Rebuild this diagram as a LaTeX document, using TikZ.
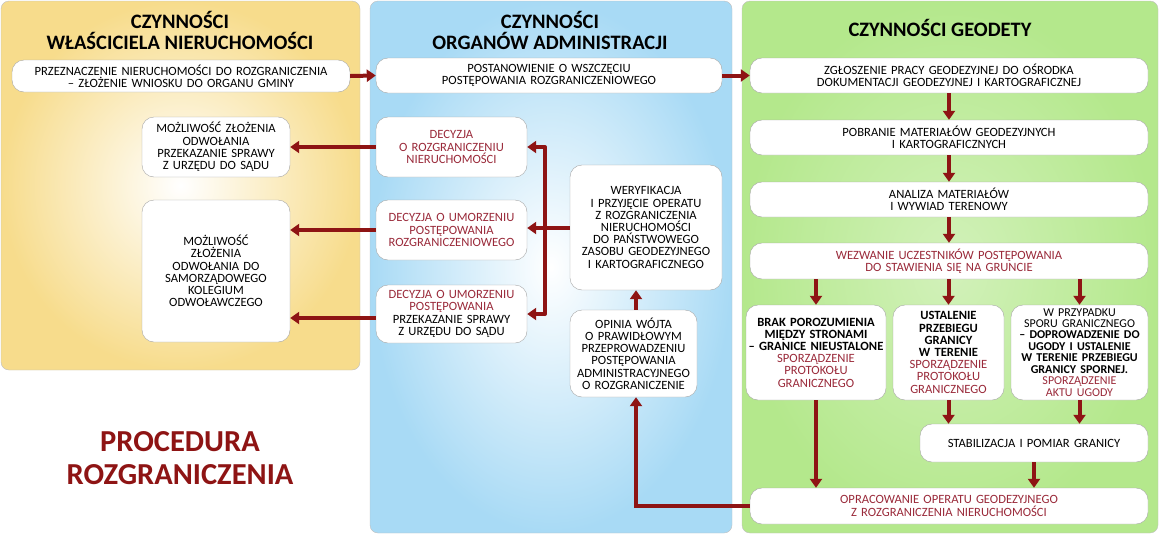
\documentclass[tikz,border=0pt]{standalone}
\usepackage{fontspec}
\setmainfont{Carlito}
\usetikzlibrary{arrows.meta}
\definecolor{dred}{HTML}{8E1414}
\definecolor{tred}{HTML}{9A2A3A}
\definecolor{py}{HTML}{F7DC8C}
\definecolor{pb}{HTML}{A8DAF5}
\definecolor{pg}{HTML}{B4E88C}
\begin{document}
\begin{tikzpicture}[x=1pt,y=-1pt,
 box/.style={draw=gray!70,fill=white,rounded corners=12pt,align=center,font=\fontsize{12.6}{12.2}\selectfont,inner sep=0pt},
 arr/.style={draw=dred,line width=4pt,-{Triangle[length=9pt,width=12pt]}},
 ln/.style={draw=dred,line width=4pt},
 ttl/.style={font=\bfseries\fontsize{20.5}{21}\selectfont,align=center}]
\useasboundingbox (0,0) rectangle (1160,536);
\shade[inner color=white,outer color=py,rounded corners=8pt,draw=gray!50] (1,1) rectangle (360,370);
\shade[inner color=white,outer color=pb,rounded corners=8pt,draw=gray!50] (370,1) rectangle (732,533);
\shade[inner color=white!40!pg,outer color=pg,rounded corners=8pt,draw=gray!50] (742,1) rectangle (1158,533);
\node[ttl] (t1) at (180,30) {CZYNNOŚCI\\WŁAŚCICIELA NIERUCHOMOŚCI};
\node[ttl] (t2) at (550,30) {CZYNNOŚCI\\ORGANÓW ADMINISTRACJI};
\node[ttl] (t3) at (940,28) {CZYNNOŚCI GEODETY};
\node[font=\bfseries\fontsize{30.5}{33}\selectfont,text=dred,align=center] (proc) at (180,458) {PROCEDURA\\ROZGRANICZENIA};
\newcommand{\bx}[6]{\node[box,minimum width=#4-#3,minimum height=#6-#5,text width=#4-#3-4pt] (#1) at ({(#3+#4)/2},{(#5+#6)/2}) {#2};}
\bx{L1}{PRZEZNACZENIE NIERUCHOMOŚCI DO ROZGRANICZENIA\\– ZŁOŻENIE WNIOSKU DO ORGANU GMINY}{12}{350}{60}{92}
\bx{L2}{MOŻLIWOŚĆ ZŁOŻENIA\\ODWOŁANIA\\PRZEKAZANIE SPRAWY\\Z URZĘDU DO SĄDU}{142}{290}{117}{177}
\bx{L3}{MOŻLIWOŚĆ\\ZŁOŻENIA\\ODWOŁANIA DO\\SAMORZĄDOWEGO\\KOLEGIUM\\ODWOŁAWCZEGO}{142}{290}{200}{342}
\bx{M1}{POSTANOWIENIE O WSZCZĘCIU\\POSTĘPOWANIA ROZGRANICZENIOWEGO}{376}{722}{58}{93}
\bx{D1}{\color{tred}DECYZJA\\O ROZGRANICZENIU\\NIERUCHOMOŚCI}{376}{527}{117}{177}
\bx{D2}{\color{tred}DECYZJA O UMORZENIU\\POSTĘPOWANIA\\ROZGRANICZENIOWEGO}{376}{527}{200}{260}
\bx{D3}{{\color{tred}DECYZJA O UMORZENIU\\POSTĘPOWANIA}\\PRZEKAZANIE SPRAWY\\Z URZĘDU DO SĄDU}{376}{527}{285}{343}
\bx{W}{WERYFIKACJA\\I PRZYJĘCIE OPERATU\\Z ROZGRANICZENIA\\NIERUCHOMOŚCI\\DO PAŃSTWOWEGO\\ZASOBU GEODEZYJNEGO\\I KARTOGRAFICZNEGO}{570}{722}{165}{290}
\bx{O}{OPINIA WÓJTA\\O PRAWIDŁOWYM\\PRZEPROWADZENIU\\POSTĘPOWANIA\\ADMINISTRACYJNEGO\\O ROZGRANICZENIE}{570}{697}{310}{397}
\bx{R1}{ZGŁOSZENIE PRACY GEODEZYJNEJ DO OŚRODKA\\DOKUMENTACJI GEODEZYJNEJ I KARTOGRAFICZNEJ}{750}{1148}{58}{93}
\bx{R2}{POBRANIE MATERIAŁÓW GEODEZYJNYCH\\I KARTOGRAFICZNYCH}{750}{1148}{120}{155}
\bx{R3}{ANALIZA MATERIAŁÓW\\I WYWIAD TERENOWY}{750}{1148}{182}{217}
\bx{R4}{\color{tred}WEZWANIE UCZESTNIKÓW POSTĘPOWANIA\\DO STAWIENIA SIĘ NA GRUNCIE}{750}{1148}{243}{279}
\bx{Ra}{\textbf{BRAK POROZUMIENIA\\MIĘDZY STRONAMI\\– GRANICE NIEUSTALONE}\\\color{tred}SPORZĄDZENIE\\PROTOKOŁU\\GRANICZNEGO}{746}{886}{305}{400}
\bx{Rb}{\textbf{USTALENIE\\PRZEBIEGU\\GRANICY W TERENIE}\\\color{tred}SPORZĄDZENIE\\PROTOKOŁU\\GRANICZNEGO}{893}{1004}{305}{400}
\bx{Rc}{\fontsize{12}{11.4}\selectfont W PRZYPADKU\\SPORU GRANICZNEGO\\\textbf{– DOPROWADZENIE DO\\UGODY I USTALENIE\\W TERENIE PRZEBIEGU\\GRANICY SPORNEJ.}\\\color{tred}SPORZĄDZENIE\\AKTU UGODY}{1011}{1148}{305}{400}
\bx{R6}{STABILIZACJA I POMIAR GRANICY}{920}{1148}{424}{462}
\bx{R7}{\color{tred}OPRACOWANIE OPERATU GEODEZYJNEGO\\Z ROZGRANICZENIA NIERUCHOMOŚCI}{750}{1148}{488}{524}
\draw[arr] (L1.east) -- (M1.west);
\draw[arr] (M1.east) -- (R1.west);
\draw[arr] (R1.south) -- (R2.north);
\draw[arr] (R2.south) -- (R3.north);
\draw[arr] (R3.south) -- (R4.north);
\draw[arr] (R4.south -| Ra) -- (Ra.north);
\draw[arr] (R4.south -| Rb) -- (Rb.north);
\draw[arr] (R4.south -| Rc) -- (Rc.north);
\draw[arr] (Ra.south) -- (Ra.south |- R7.north);
\draw[arr] (Rb.south) -- (Rb.south |- R6.north);
\draw[arr] (Rc.south) -- (Rc.south |- R6.north);
\draw[arr] (R6.south) -- (R6.south |- R7.north);
\coordinate (c1) at (636,506);
\draw[arr] (R7.west) -- (c1) -- (c1 |- O.south);
\draw[arr] (O.north -| c1) -- (c1 |- W.south);
\coordinate (b) at (545,228);
\draw[ln] (W.west |- b) -- (b);
\draw[ln,line cap=round] (545,147) -- (545,314);
\draw[arr] (545,147) -- (D1.east);
\draw[arr] (b) -- (D2.east |- b);
\draw[arr] (545,314) -- (D3.east |- 0,314);
\draw[arr] (D1.west) -- (L2.east);
\draw[arr] (D2.west |- 0,230) -- (L3.east |- 0,230);
\draw[arr] (D3.west |- 0,318) -- (L3.east |- 0,318);
\end{tikzpicture}
\end{document}
